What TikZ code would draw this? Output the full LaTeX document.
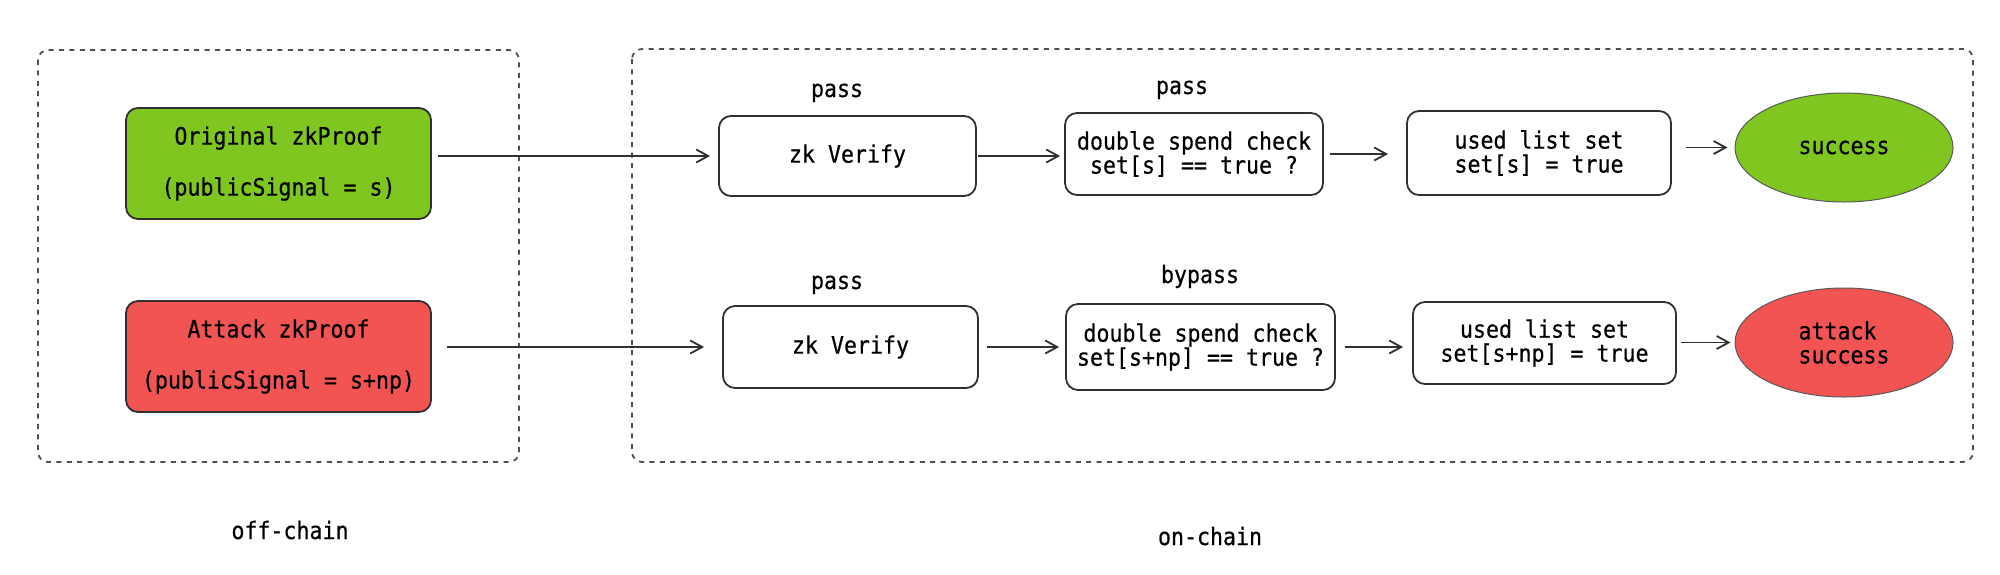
\documentclass[tikz,border=0pt]{standalone}
\usepackage{fontspec}
\setmainfont[FakeStretch=0.9,FakeBold=0.5]{DejaVu Sans Mono}
\usepackage{tikz}
\usetikzlibrary{arrows.meta,shapes.geometric}
\definecolor{okgreen}{RGB}{128,198,32}
\definecolor{badred}{RGB}{242,84,84}
\definecolor{edge}{RGB}{48,48,48}

\begin{document}
\begin{tikzpicture}[x=0.5pt, y=-0.5pt, font=\fontsize{12}{12}\selectfont,
  box/.style={draw=edge, line width=0.9pt, rounded corners=6pt, align=center, inner sep=0pt},
  proof/.style={box, minimum width=152.5pt, minimum height=55.5pt},
  result/.style={ellipse, draw=edge!80, line width=0.5pt, minimum width=109pt, minimum height=54.5pt, inner sep=0pt},
  zone/.style={draw=edge!85, line width=0.9pt, dash pattern=on 2.5pt off 2.7pt, rounded corners=5pt},
  tag/.style={anchor=base, inner sep=0pt},
  flow/.style={draw=edge, line width=0.9pt, -{Straight Barb[length=6pt,width=6.5pt]}}]
  \useasboundingbox (0,0) rectangle (2000,574);

  % off-chain / on-chain areas
  \draw[zone] (38,50) rectangle (519,462);
  \draw[zone] (632,49) rectangle (1973,462);
  \node[tag] (offchain) at (290,539) {off-chain};
  \node[tag] (onchain) at (1210,545) {on-chain};

  % proofs
  \node[proof, fill=okgreen] (orig) at (278.5,163.5) {Original zkProof\\[13.5pt](publicSignal = s)};
  \node[proof, fill=badred] (attk) at (278.5,356.5) {Attack zkProof\\[13.5pt](publicSignal = s+np)};

  % normal path
  \node[box, minimum width=128.5pt, minimum height=40pt] (zkA) at (847.5,156) {zk Verify};
  \node[box, minimum width=129pt, minimum height=41pt] (checkA) at (1194,154) {double spend check\\set[s] == true ?};
  \node[box, minimum width=132pt, minimum height=42pt] (usedA) at (1539,153) {used list set\\set[s] = true};
  \node[result, fill=okgreen] (succA) at (1844,147.5) {success};
  \node[tag] (passA) at (837,97) {pass};
  \node[tag] (passB) at (1182,94) {pass};

  % attack path
  \node[box, minimum width=127.5pt, minimum height=41pt] (zkB) at (850.5,347) {zk Verify};
  \node[box, minimum width=134.5pt, minimum height=43pt] (checkB) at (1200.5,347) {double spend check\\set[s+np] == true ?};
  \node[box, minimum width=131.5pt, minimum height=41pt] (usedB) at (1544.5,343) {used list set\\set[s+np] = true};
  \node[result, fill=badred, align=left] (succB) at (1844,342.5) {attack\\success};
  \node[tag] (passC) at (837,289) {pass};
  \node[tag] (bypass) at (1200,283) {bypass};

  \draw[flow, shorten <=3pt, shorten >=4pt] (orig.east |- zkA) -- (zkA);
  \draw[flow, shorten <=0.5pt, shorten >=2pt] (zkA.east) -- (checkA.west |- zkA);
  \draw[flow, shorten <=3pt, shorten >=9pt] (checkA.east) -- (usedA.west |- checkA);
  \draw[flow, shorten <=7pt, shorten >=3.5pt] (usedA.east |- succA) -- (succA);

  \draw[flow, shorten <=7.5pt, shorten >=9pt] (attk.east |- zkB) -- (zkB);
  \draw[flow, shorten <=4pt, shorten >=3pt] (zkB.east) -- (checkB.west |- zkB);
  \draw[flow, shorten <=4.5pt, shorten >=4.5pt] (checkB.east) -- (usedB.west |- checkB);
  \draw[flow, shorten <=2pt, shorten >=2pt] (usedB.east |- succB) -- (succB);
\end{tikzpicture}
\end{document}
